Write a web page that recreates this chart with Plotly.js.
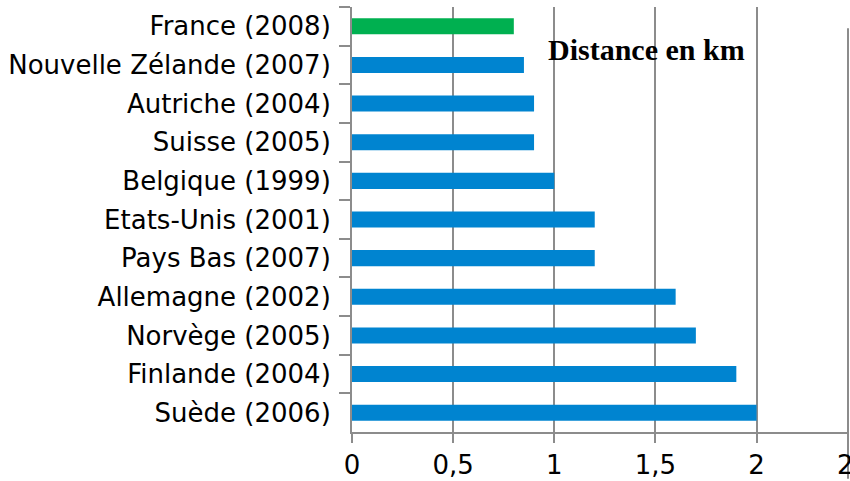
<!DOCTYPE html>
<html>
<head>
<meta charset="utf-8">
<script src="https://cdn.plot.ly/plotly-3.0.1.min.js"></script>
<style>html,body{margin:0;padding:0;background:#fff;overflow:hidden;}#chart{width:850px;height:481px;}</style>
</head>
<body>
<div id="chart"></div>
<script>
const countries = ["France (2008)", "Nouvelle Zélande (2007)", "Autriche (2004)", "Suisse (2005)", "Belgique (1999)", "Etats-Unis (2001)", "Pays Bas (2007)", "Allemagne (2002)", "Norvège (2005)", "Finlande (2004)", "Suède (2006)"];
const distances = [0.8, 0.85, 0.9, 0.9, 1.0, 1.2, 1.2, 1.6, 1.7, 1.9, 2.0];
const barColors = ["#00B050", "#0084D0", "#0084D0", "#0084D0", "#0084D0", "#0084D0", "#0084D0", "#0084D0", "#0084D0", "#0084D0", "#0084D0"];
const xTickVals = [0, 0.5, 1, 1.5, 2, 2.5];
const xTickText = ["0", "0,5", "1", "1,5", "2", "2,5"];
const chartTitle = "Distance en km";

const gridCol = "#8c8c8c";
const trace = {
  type: "bar",
  orientation: "h",
  y: countries,
  x: distances,
  marker: {color: barColors},
  hoverinfo: "none"
};
const layout = {
  width: 850, height: 481,
  margin: {l: 352, r: 1, t: 7, b: 49},
  paper_bgcolor: "#fff", plot_bgcolor: "#fff",
  showlegend: false,
  bargap: 0.585,
  font: {family: "DejaVu Sans", color: "#000"},
  xaxis: {
    range: [0, 2.457],
    tickvals: xTickVals.slice(0, 5), ticktext: xTickText.slice(0, 5),
    showgrid: true, gridcolor: gridCol, gridwidth: 2,
    zeroline: false,
    showline: true, linecolor: gridCol, linewidth: 2,
    ticks: "outside", ticklen: 9, tickwidth: 2, tickcolor: gridCol,
    tickfont: {family: "DejaVu Sans", size: 26, color: "#000"},
    fixedrange: true
  },
  yaxis: {
    type: "category",
    autorange: "reversed",
    showgrid: false, zeroline: false,
    showline: true, linecolor: gridCol, linewidth: 2,
    ticks: "outside", tickson: "boundaries", ticklen: 11, tickwidth: 2, tickcolor: gridCol,
    ticklabelstandoff: 14,
    tickfont: {family: "DejaVu Sans", size: 26, color: "#000"},
    fixedrange: true
  },
  annotations: [
    {text: "<b>" + chartTitle + "</b>", xref: "paper", yref: "paper", x: 0.592, y: 0.9,
     xanchor: "center", yanchor: "middle", showarrow: false,
     font: {family: "Liberation Serif", size: 30, color: "#000"}},
    {text: xTickText[5], xref: "paper", yref: "paper", x: 1.018, y: -0.078,
     xanchor: "center", yanchor: "middle", showarrow: false,
     font: {family: "DejaVu Sans", size: 26, color: "#000"}}
  ],
  shapes: [
    {type: "line", xref: "paper", yref: "paper", x0: 0.998, x1: 0.998, y0: -0.11, y1: 0.95,
     line: {color: gridCol, width: 2}}
  ]
};
Plotly.newPlot("chart", [trace], layout, {displayModeBar: false, staticPlot: true});
</script>
</body>
</html>
